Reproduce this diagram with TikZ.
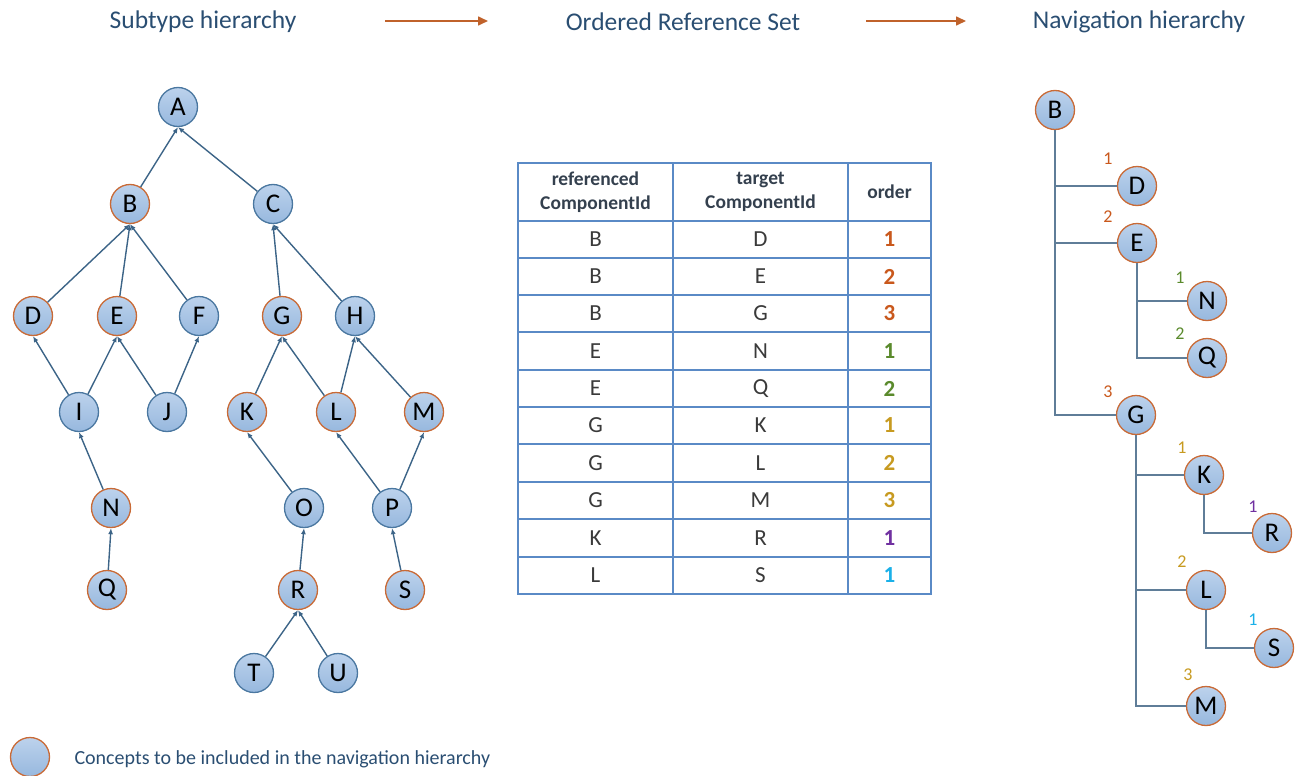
\documentclass[tikz,border=0pt]{standalone}
\usepackage{fontspec}
\setmainfont{Carlito}
\usetikzlibrary{arrows.meta,calc}
\definecolor{nodefillT}{HTML}{BCD2EC}
\definecolor{nodefillB}{HTML}{97B8DE}
\definecolor{blueline}{HTML}{4A77A0}
\definecolor{orangeline}{HTML}{C96A36}
\definecolor{edgecol}{HTML}{3C6487}
\definecolor{navcol}{HTML}{5F7D98}
\definecolor{headcol}{HTML}{2A4E72}
\definecolor{arrcol}{HTML}{C0622B}
\definecolor{tabline}{HTML}{5A8AC6}
\definecolor{tabtext}{HTML}{3A3A3A}
\definecolor{tabhead}{HTML}{34404E}
\definecolor{ordorange}{HTML}{C9581C}
\definecolor{ordgreen}{HTML}{5A8A2C}
\definecolor{ordgold}{HTML}{C79A20}
\definecolor{ordpurple}{HTML}{7030A0}
\definecolor{ordcyan}{HTML}{1AB0E8}
\tikzset{
  concept/.style={circle,minimum size=39pt,inner sep=0pt,top color=nodefillT,bottom color=nodefillB,
    draw=blueline,line width=1.3pt,font=\fontsize{27}{30}\selectfont,text=black},
  incl/.style={concept,draw=orangeline},
  sub/.style={draw=edgecol,line width=1.4pt,-{Latex[length=6pt,width=5pt]}},
  nav/.style={draw=navcol,line width=1.8pt},
  heading/.style={font=\fontsize{25.5}{30}\selectfont,text=headcol},
  flow/.style={draw=arrcol,line width=1.6pt,-{Triangle[length=10pt,width=9pt]}},
  tabcell/.style={font=\fontsize{23}{26}\selectfont,text=tabtext},
  tabhd/.style={font=\fontsize{19.5}{24}\selectfont\bfseries,text=tabhead,align=center},
  ordn/.style={font=\fontsize{23}{26}\selectfont\bfseries},
  navlbl/.style={font=\fontsize{18}{20}\selectfont},
}
\begin{document}
\begin{tikzpicture}[x=1pt,y=-1pt]
\useasboundingbox (0,0) rectangle (1298,776);
% headings
\node[heading] (h1) at (203,22) {Subtype hierarchy};
\node[heading] (h2) at (683,22) {Ordered Reference Set};
\node[heading] (h3) at (1139,22) {Navigation hierarchy};
\coordinate (a1s) at (385,21); \coordinate (a1e) at (488,21);
\coordinate (a2s) at (866,21); \coordinate (a2e) at (966,21);
\draw[flow] (a1s) -- (a1e);
\draw[flow] (a2s) -- (a2e);
% subtype hierarchy
\node[concept] (A) at (178,107) {A};
\node[incl] (B) at (130,204) {B};
\node[concept] (C) at (273,204) {C};
\node[incl] (D) at (33,316) {D};
\node[incl] (E) at (117,316) {E};
\node[concept] (F) at (199,316) {F};
\node[incl] (G) at (282,316) {G};
\node[concept] (H) at (355,316) {H};
\node[concept] (I) at (79,412) {I};
\node[concept] (J) at (167,412) {J};
\node[incl] (K) at (247,412) {K};
\node[incl] (L) at (336,412) {L};
\node[incl] (M) at (424,412) {M};
\node[incl] (N) at (111,508) {N};
\node[concept] (O) at (304,508) {O};
\node[concept] (P) at (392,508) {P};
\node[incl] (Q) at (107,590) {Q};
\node[incl] (R) at (298,590) {R};
\node[incl] (S) at (405,590) {S};
\node[concept] (T) at (254,673) {T};
\node[concept] (U) at (338,673) {U};
\draw[sub] (B) -- (A.south);
\draw[sub] (C) -- (A.south);
\draw[sub] (D) -- (B.south);
\draw[sub] (E) -- (B.south);
\draw[sub] (F) -- (B.south);
\draw[sub] (G) -- (C.south);
\draw[sub] (H) -- (C.south);
\draw[sub] (I) -- (D.south);
\draw[sub] (I) -- (E.south);
\draw[sub] (J) -- (E.south);
\draw[sub] (J) -- (F.south);
\draw[sub] (K) -- (G.south);
\draw[sub] (L) -- (G.south);
\draw[sub] (L) -- (H.south);
\draw[sub] (M) -- (H.south);
\draw[sub] (N) -- (I.south);
\draw[sub] (Q) -- (N.south);
\draw[sub] (O) -- (K.south);
\draw[sub] (P) -- (L.south);
\draw[sub] (P) -- (M.south);
\draw[sub] (R) -- (O.south);
\draw[sub] (S) -- (P.south);
\draw[sub] (T) -- (R.south);
\draw[sub] (U) -- (R.south);
% legend
\node[incl] (leg) at (30,757) {};
\node[anchor=west,font=\fontsize{20}{24}\selectfont,text=headcol] (legtxt) at (71,759) {Concepts to be included in the navigation hierarchy};
% table
\begin{scope}[draw=tabline,line width=1.4pt]
\draw (518,163) rectangle (931,594);
\foreach \yy in {221,258,295,332,370,407,444,482,519,557} \draw (518,\yy) -- (931,\yy);
\draw (673,163) -- (673,594);
\draw (848,163) -- (848,594);
\end{scope}
\node[tabhd] (th1) at (595.5,192) {referenced\\ComponentId};
\node[tabhd] (th2) at (760.5,192) {target\\ComponentId};
\node[tabhd] (th3) at (889.5,192) {order};
\foreach \r/\a/\b/\o/\c [count=\i] in {B/D/1/ordorange,B/E/2/ordorange,B/G/3/ordorange,E/N/1/ordgreen,E/Q/2/ordgreen,G/K/1/ordgold,G/L/2/ordgold,G/M/3/ordgold,K/R/1/ordpurple,L/S/1/ordcyan}{
  \pgfmathsetmacro{\yc}{{239.5,276.5,313.5,351,388.5,425.5,463,500.5,538,575.5}[\i-1]}
  \node[tabcell] (r\i a) at (595.5,\yc) {\r};
  \node[tabcell] (r\i b) at (760.5,\yc) {\a};
  \node[ordn,text=\c] (r\i c) at (889.5,\yc) {\b};
}
% navigation hierarchy
\node[incl] (nB) at (1055,110) {B};
\node[incl] (nD) at (1137,186) {D};
\node[incl] (nE) at (1137,243) {E};
\node[incl] (nN) at (1207,301) {N};
\node[incl] (nQ) at (1207,358) {Q};
\node[incl] (nG) at (1136,415) {G};
\node[incl] (nK) at (1204,475) {K};
\node[incl] (nR) at (1272,533) {R};
\node[incl] (nL) at (1206,590) {L};
\node[incl] (nS) at (1274,648) {S};
\node[incl] (nM) at (1206,706) {M};
\draw[nav] (nB.south) |- (nG.west);
\draw[nav] (nB.south |- nD.west) -- (nD.west);
\draw[nav] (nB.south |- nE.west) -- (nE.west);
\draw[nav] (nE.south) |- (nQ.west);
\draw[nav] (nE.south |- nN.west) -- (nN.west);
\draw[nav] (nG.south) |- (nM.west);
\draw[nav] (nG.south |- nK.west) -- (nK.west);
\draw[nav] (nG.south |- nL.west) -- (nL.west);
\draw[nav] (nK.south) |- (nR.west);
\draw[nav] (nL.south) |- (nS.west);
\node[navlbl,text=ordorange] (lD) at (1108,159) {1};
\node[navlbl,text=ordorange] (lE) at (1108,217) {2};
\node[navlbl,text=ordgreen] (lN) at (1180,278) {1};
\node[navlbl,text=ordgreen] (lQ) at (1180,334) {2};
\node[navlbl,text=ordorange] (lG) at (1108,392) {3};
\node[navlbl,text=ordgold] (lK) at (1182,448) {1};
\node[navlbl,text=ordpurple] (lR) at (1253,507) {1};
\node[navlbl,text=ordgold] (lL) at (1182,562) {2};
\node[navlbl,text=ordcyan] (lS) at (1253,620) {1};
\node[navlbl,text=ordgold] (lM) at (1188,675) {3};
\end{tikzpicture}
\end{document}
